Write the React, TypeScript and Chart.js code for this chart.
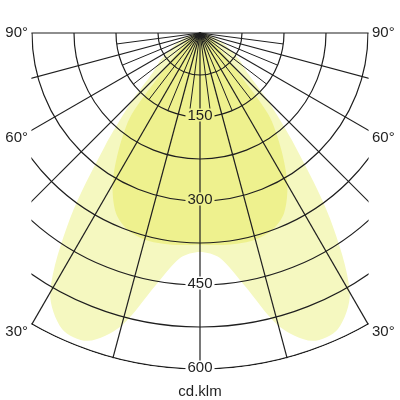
import { useEffect, useRef } from "react";
import { Chart, registerables } from "chart.js";

Chart.register(...registerables);

// angles from nadir (deg), values in cd/klm
const angles = [0, 5, 10, 15, 20, 25, 30, 35, 40, 45, 50, 55, 60, 65, 70, 75, 80, 85, 90];
const wideBeam = [391, 403, 458, 541, 585, 583, 535, 405, 265, 172, 110, 88, 65, 48, 34, 22, 13, 6, 0];
const narrowBeam = [378, 380, 382, 382, 375, 355, 312, 252, 190, 85, 50, 36, 26, 18, 12, 8, 5, 2, 0];

const ringValues = [75, 150, 225, 300, 375, 450, 525, 600];
const ringLabels = [150, 300, 450, 600];
const spokeAngles = [-90, -75, -60, -45, -30, -15, 0, 15, 30, 45, 60, 75, 90];
const fineSpokeAngles = [-82.5, -67.5, -52.5, -37.5, -22.5, -7.5, 7.5, 22.5, 37.5, 52.5, 67.5, 82.5];
const fineSpokeReach = 150;
const angleLabels = [90, 60, 30];
const unitLabel = "cd.klm";
const maxValue = 600;
const gridHalfWidth = 300;

const PX_PER_UNIT = 0.56;
const CENTER_X = 200;
const CENTER_Y = 33;
const SIZE = 400;

const rad = (d: number) => (d * Math.PI) / 180;

function curve(values: number[]) {
  const pts: { x: number; y: number }[] = [];
  for (let i = angles.length - 1; i >= 0; i--) {
    const a = rad(-angles[i]);
    pts.push({ x: values[i] * Math.sin(a), y: -values[i] * Math.cos(a) });
  }
  for (let i = 1; i < angles.length; i++) {
    const a = rad(angles[i]);
    pts.push({ x: values[i] * Math.sin(a), y: -values[i] * Math.cos(a) });
  }
  return pts;
}

const FONT = "15px 'Liberation Sans', Arial, sans-serif";
const INK = "#1f1f1f";

const gridPlugin = {
  id: "polarGrid",
  afterDatasetsDraw(chart: any) {
    const { ctx } = chart;
    const xs = chart.scales.x;
    const ys = chart.scales.y;
    const px = (v: number) => xs.getPixelForValue(v);
    const py = (v: number) => ys.getPixelForValue(v);
    const cx = px(0);
    const cy = py(0);
    const k = px(1) - px(0);
    const at = (deg: number, r: number): [number, number] => [
      px(r * Math.sin(rad(deg))),
      py(-r * Math.cos(rad(deg))),
    ];

    ctx.save();
    ctx.font = FONT;

    // clip to the grid frame
    const left = px(-gridHalfWidth);
    const right = px(gridHalfWidth);
    ctx.beginPath();
    ctx.rect(left - 0.6, cy - 1, right - left + 1.2, py(-maxValue) - cy + 2);
    ctx.clip();
    ctx.beginPath();
    ctx.arc(cx, cy, maxValue * k + 0.7, 0, Math.PI * 2);
    ctx.clip();
    // holes for value labels
    ctx.beginPath();
    ctx.rect(0, 0, chart.width, chart.height);
    for (const v of ringLabels) {
      const w = ctx.measureText(String(v)).width + 4;
      const h = 13;
      ctx.rect(cx - w / 2, py(-v) - 2 - h / 2, w, h);
    }
    ctx.clip("evenodd");

    ctx.strokeStyle = INK;
    ctx.lineWidth = 1.2;

    for (const v of ringValues) {
      ctx.beginPath();
      ctx.arc(cx, cy, v * k, 0, Math.PI);
      ctx.stroke();
    }
    for (const d of spokeAngles) {
      const [x2, y2] = at(d, maxValue * 2);
      ctx.beginPath();
      ctx.moveTo(cx, cy);
      ctx.lineTo(x2, y2);
      ctx.stroke();
    }
    ctx.lineWidth = 1;
    for (const d of fineSpokeAngles) {
      const [x2, y2] = at(d, fineSpokeReach);
      ctx.beginPath();
      ctx.moveTo(cx, cy);
      ctx.lineTo(x2, y2);
      ctx.stroke();
    }
    ctx.restore();

    // texts
    ctx.save();
    ctx.font = FONT;
    ctx.fillStyle = INK;
    ctx.textBaseline = "middle";
    ctx.textAlign = "center";
    for (const v of ringLabels) {
      ctx.fillText(String(v), cx, py(-v) - 1.5);
    }
    ctx.fillText(unitLabel, cx, py(-maxValue) + 23);
    for (const a of angleLabels) {
      const yEnd = a === 90 ? 0 : -gridHalfWidth / Math.tan(rad(a));
      const y = py(yEnd) + (a === 90 ? 0 : 8);
      ctx.textAlign = "right";
      ctx.fillText(`${a}°`, left - 4, y);
      ctx.textAlign = "left";
      ctx.fillText(`${a}°`, right + 4, y);
    }
    ctx.restore();
  },
};

export default function App() {
  const canvasRef = useRef<HTMLCanvasElement | null>(null);
  const chartRef = useRef<Chart | null>(null);

  useEffect(() => {
    document.body.style.margin = "0";
    if (!canvasRef.current) return;
    const ctx = canvasRef.current.getContext("2d");
    if (!ctx) return;

    chartRef.current?.destroy();
    chartRef.current = new Chart(ctx, {
      type: "scatter",
      data: {
        datasets: [
          {
            label: "narrow",
            data: curve(narrowBeam),
            showLine: true,
            fill: "shape",
            backgroundColor: "#eef18e",
            borderWidth: 0,
            pointRadius: 0,
            tension: 0.3,
          },
          {
            label: "wide",
            data: curve(wideBeam),
            showLine: true,
            fill: "shape",
            backgroundColor: "#f5f8c0",
            borderWidth: 0,
            pointRadius: 0,
            tension: 0.3,
          },
        ],
      },
      options: {
        responsive: false,
        animation: false,
        layout: { padding: 0 },
        plugins: { legend: { display: false }, tooltip: { enabled: false } },
        scales: {
          x: {
            type: "linear",
            display: false,
            min: -CENTER_X / PX_PER_UNIT,
            max: (SIZE - CENTER_X) / PX_PER_UNIT,
          },
          y: {
            type: "linear",
            display: false,
            min: -(SIZE - CENTER_Y) / PX_PER_UNIT,
            max: CENTER_Y / PX_PER_UNIT,
          },
        },
      },
      plugins: [gridPlugin],
    });

    return () => {
      chartRef.current?.destroy();
      chartRef.current = null;
    };
  }, []);

  return (
    <div style={{ width: SIZE, height: SIZE, background: "#fff" }}>
      <canvas ref={canvasRef} width={SIZE} height={SIZE} />
    </div>
  );
}
